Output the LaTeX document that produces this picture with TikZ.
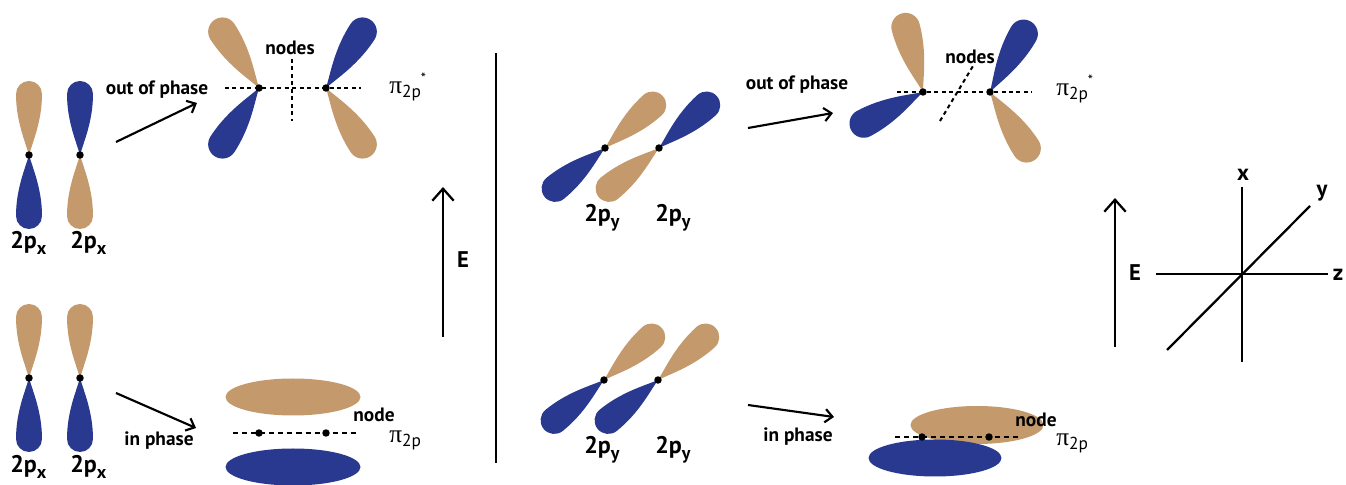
\documentclass[tikz,border=0pt]{standalone}
\usepackage{fontspec}
\setmainfont{PT Sans}
\newfontfamily\greekfont{Liberation Serif}
\usetikzlibrary{arrows.meta}
\definecolor{lobetan}{RGB}{196,153,108}
\definecolor{lobeblue}{RGB}{41,57,143}

% pi label: greek letter, lowered "2p", optional raised star
\newcommand{\pilabel}[1]{{\greekfont\fontsize{19}{20}\selectfont π}\raisebox{-0.55ex}{\fontsize{13}{14}\selectfont 2p}#1}
\newcommand{\antistar}{\raisebox{1.5ex}{\fontsize{11}{11}\selectfont *}}
\newcommand{\orb}[1]{2p\raisebox{-0.45ex}{\fontsize{13.5}{13.5}\selectfont #1}}

\tikzset{
  lobe/.pic={\fill (0,0) .. controls (14,-4) and (34,-13) .. (61,-13)
      arc[start angle=-90,end angle=90,radius=13]
      .. controls (34,13) and (14,4) .. (0,0) -- cycle;},
  tanlobe/.style={color=lobetan},
  bluelobe/.style={color=lobeblue},
  nucleus/.style={circle, fill=black, inner sep=0pt, minimum size=5.6pt},
  lbl/.style={font=\bfseries\fontsize{14.5}{16}\selectfont, inner sep=0pt},
  biglbl/.style={font=\bfseries\fontsize{17}{19}\selectfont, inner sep=0pt},
  orblbl/.style={font=\bfseries\fontsize{18}{20}\selectfont, inner sep=0pt, anchor=base west},
  pilbl/.style={inner sep=0pt, anchor=base west},
  nodeline/.style={line width=1.5pt, dash pattern=on 3pt off 2.6pt},
  nodeline2/.style={line width=1pt, dash pattern=on 3.8pt off 3pt},
  conn/.style={line width=1.6pt, -{Straight Barb[length=5.5pt,width=10pt,line width=1.6pt]}},
  energy/.style={line width=1.7pt, -{Straight Barb[length=9pt,width=16pt,line width=1.7pt]}},
  axis/.style={line width=1.7pt}
}

\begin{document}
\begin{tikzpicture}[x=0.75pt,y=0.75pt]
\path[use as bounding box] (0,0) rectangle (1346,485);

% ---------- 2p_x, out of phase ----------
\pic[tanlobe,  rotate=90]  at (29,330) {lobe};
\pic[bluelobe, rotate=-90] at (29,330) {lobe};
\pic[bluelobe, rotate=90]  at (80,330) {lobe};
\pic[tanlobe,  rotate=-90] at (80,330) {lobe};
\node[nucleus] (xa1) at (29,330) {};
\node[nucleus] (xa2) at (80,330) {};
\node[orblbl] (lxa1) at (10,236) {\orb{x}};
\node[orblbl] (lxa2) at (70,236) {\orb{x}};

\coordinate (ar1s) at (116,343);
\coordinate (ar1e) at (197,382);
\draw[conn] (ar1s) -- (ar1e);
\node[lbl] (oop1) at (157,395) {out of phase};

% pi* from 2p_x
\pic[tanlobe,  rotate=123, scale=1.1] at (259,397) {lobe};
\pic[bluelobe, rotate=237, scale=1.1] at (259,397) {lobe};
\pic[bluelobe, rotate=57,  scale=1.1] at (326,397) {lobe};
\pic[tanlobe,  rotate=-57, scale=1.1] at (326,397) {lobe};
\coordinate (hx1) at (225,397);
\coordinate (hx2) at (361,397);
\coordinate (vx1) at (292,426);
\coordinate (vx2) at (292,364);
\draw[nodeline] (hx1) -- (hx2);
\draw[nodeline] (vx1) -- (vx2);
\node[nucleus] (pxa) at (259,397) {};
\node[nucleus] (pxb) at (326,397) {};
\node[lbl] (nds1) at (290,437) {nodes};
\node[pilbl] (pis1) at (389,391) {\pilabel{\antistar}};

% ---------- 2p_x, in phase ----------
\pic[tanlobe,  rotate=90]  at (29,107) {lobe};
\pic[bluelobe, rotate=-90] at (29,107) {lobe};
\pic[tanlobe,  rotate=90]  at (80,107) {lobe};
\pic[bluelobe, rotate=-90] at (80,107) {lobe};
\node[nucleus] (xb1) at (29,107) {};
\node[nucleus] (xb2) at (80,107) {};
\node[orblbl] (lxb1) at (10,12) {\orb{x}};
\node[orblbl] (lxb2) at (70,12) {\orb{x}};

\coordinate (ar2s) at (116,92);
\coordinate (ar2e) at (196,57);
\draw[conn] (ar2s) -- (ar2e);
\node[lbl] (ip1) at (159,44) {in phase};

% pi from 2p_x
\fill[lobetan]  (293,88) ellipse[x radius=67.5, y radius=18.5];
\fill[lobeblue] (293,18) ellipse[x radius=67.5, y radius=18.5];
\coordinate (hb1) at (233,52);
\coordinate (hb2) at (358,52);
\draw[nodeline2] (hb1) -- (hb2);
\node[nucleus] (pxc) at (259,52) {};
\node[nucleus] (pxd) at (326,52) {};
\node[lbl] (nd1) at (374,70) {node};
\node[pilbl] (pi1) at (389,42) {\pilabel{}};

% ---------- energy arrow and divider ----------
\coordinate (e1s) at (443,148);
\coordinate (e1e) at (443,298);
\draw[energy] (e1s) -- (e1e);
\node[biglbl] (E1) at (463,225) {E};
\coordinate (dv1) at (496,432);
\coordinate (dv2) at (496,22);
\draw[line width=1.8pt] (dv1) -- (dv2);

% ---------- 2p_y, out of phase ----------
\pic[tanlobe,  rotate=42,  scale=1.05] at (605,337) {lobe};
\pic[bluelobe, rotate=219, scale=1.05] at (605,337) {lobe};
\pic[bluelobe, rotate=42,  scale=1.05] at (659,337) {lobe};
\pic[tanlobe,  rotate=219, scale=1.05] at (659,337) {lobe};
\node[nucleus] (ya1) at (605,337) {};
\node[nucleus] (ya2) at (659,337) {};
\node[orblbl] (lya1) at (584,263) {\orb{y}};
\node[orblbl] (lya2) at (655,263) {\orb{y}};

\coordinate (ar3s) at (748,357);
\coordinate (ar3e) at (833,372);
\draw[conn] (ar3s) -- (ar3e);
\node[lbl] (oop2) at (797,400) {out of phase};

% pi* from 2p_y
\pic[tanlobe,  rotate=105, scale=1.1] at (923,393) {lobe};
\pic[bluelobe, rotate=208, scale=1.1] at (923,393) {lobe};
\pic[bluelobe, rotate=60,  scale=1.1] at (990,393) {lobe};
\pic[tanlobe,  rotate=-57, scale=1.1] at (990,393) {lobe};
\coordinate (hy1) at (897,393);
\coordinate (hy2) at (1032,393);
\coordinate (sy1) at (940,364);
\coordinate (sy2) at (973,419);
\draw[nodeline] (hy1) -- (hy2);
\draw[nodeline] (sy1) -- (sy2);
\node[nucleus] (pya) at (923,393) {};
\node[nucleus] (pyb) at (990,393) {};
\node[lbl] (nds2) at (970,428) {nodes};
\node[pilbl] (pis2) at (1056,389) {\pilabel{\antistar}};

% ---------- 2p_y, in phase ----------
\pic[tanlobe,  rotate=42,  scale=1.05] at (604,105) {lobe};
\pic[bluelobe, rotate=219, scale=1.05] at (604,105) {lobe};
\pic[tanlobe,  rotate=42,  scale=1.05] at (658,105) {lobe};
\pic[bluelobe, rotate=219, scale=1.05] at (658,105) {lobe};
\node[nucleus] (yb1) at (604,105) {};
\node[nucleus] (yb2) at (658,105) {};
\node[orblbl] (lyb1) at (584,31) {\orb{y}};
\node[orblbl] (lyb2) at (655,31) {\orb{y}};

\coordinate (ar4s) at (748,80);
\coordinate (ar4e) at (834,68);
\draw[conn] (ar4s) -- (ar4e);
\node[lbl] (ip2) at (798,48) {in phase};

% pi from 2p_y
\fill[lobetan]  (977,60) ellipse[x radius=66.5, y radius=19];
\fill[lobeblue] (935,27) ellipse[x radius=66.5, y radius=18.5];
\coordinate (hc1) at (895,48);
\coordinate (hc2) at (1019,48);
\draw[nodeline2] (hc1) -- (hc2);
\node[nucleus] (pyc) at (922,48) {};
\node[nucleus] (pyd) at (989,48) {};
\node[lbl] (nd2) at (1036,65) {node};
\node[pilbl] (pi2) at (1056,39) {\pilabel{}};

% ---------- energy arrow and axes ----------
\coordinate (e2s) at (1115,138);
\coordinate (e2e) at (1115,287);
\draw[energy] (e2s) -- (e2e);
\node[biglbl] (E2) at (1135,212) {E};

\coordinate (ax1) at (1242,298);
\coordinate (ax2) at (1242,123);
\coordinate (az1) at (1156,211);
\coordinate (az2) at (1328,211);
\coordinate (ay1) at (1167,135);
\coordinate (ay2) at (1310,279);
\draw[axis] (ax1) -- (ax2);
\draw[axis] (az1) -- (az2);
\draw[axis] (ay1) -- (ay2);
\node[biglbl] (lx) at (1243,310) {x};
\node[biglbl] (ly) at (1322,292) {y};
\node[biglbl] (lz) at (1338,210) {z};
\end{tikzpicture}
\end{document}
